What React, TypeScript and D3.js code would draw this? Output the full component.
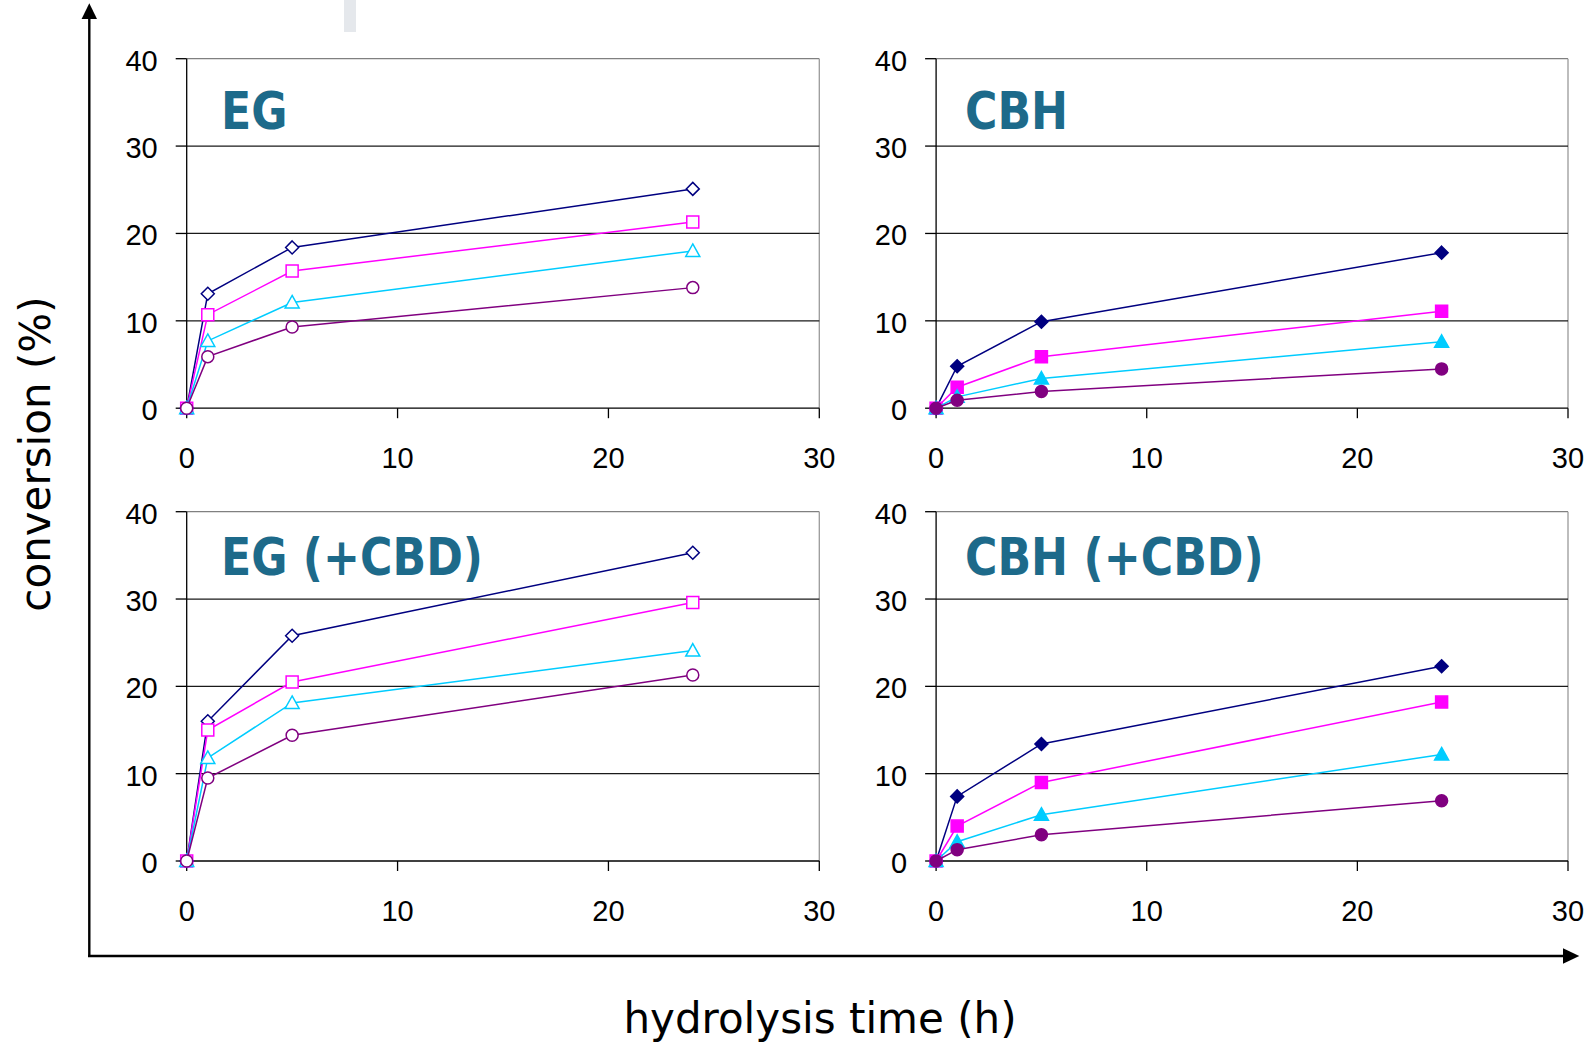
import React from "react";
import * as d3 from "d3";

const times = [0, 1, 5, 24];
const xTicks = [0, 10, 20, 30];
const yTicks = [0, 10, 20, 30, 40];
const seriesColors = ["#000080", "#FF00FF", "#00CCFF", "#800080"];
const seriesShapes = ["diamond", "square", "triangle", "circle"];

// EG
const egA = [0, 13.1, 18.4, 25.1];
const egB = [0, 10.7, 15.7, 21.3];
const egC = [0, 7.7, 12.1, 18.0];
const egD = [0, 5.9, 9.3, 13.8];
// CBH
const cbhA = [0, 4.8, 9.9, 17.8];
const cbhB = [0, 2.4, 5.9, 11.1];
const cbhC = [0, 1.3, 3.4, 7.6];
const cbhD = [0, 0.9, 1.9, 4.5];
// EG (+CBD)
const egCbdA = [0, 16.0, 25.8, 35.3];
const egCbdB = [0, 15.0, 20.5, 29.6];
const egCbdC = [0, 11.8, 18.1, 24.1];
const egCbdD = [0, 9.5, 14.4, 21.3];
// CBH (+CBD)
const cbhCbdA = [0, 7.4, 13.4, 22.3];
const cbhCbdB = [0, 4.0, 9.0, 18.2];
const cbhCbdC = [0, 2.2, 5.3, 12.2];
const cbhCbdD = [0, 1.3, 3.0, 6.9];

const panelTitles = ["EG", "CBH", "EG (+CBD)", "CBH (+CBD)"];
const yLabel = "conversion (%)";
const xLabel = "hydrolysis time (h)";

function markerPath(shape: string, cx: number, cy: number): string {
  const s = 6;
  if (shape === "diamond") {
    const d = 6.5;
    return `M${cx},${cy - d}L${cx + d},${cy}L${cx},${cy + d}L${cx - d},${cy}Z`;
  }
  if (shape === "square") {
    return `M${cx - s},${cy - s}H${cx + s}V${cy + s}H${cx - s}Z`;
  }
  if (shape === "triangle") {
    return `M${cx},${cy - 7}L${cx + 7},${cy + 5.5}L${cx - 7},${cy + 5.5}Z`;
  }
  return `M${cx - s},${cy}A${s},${s} 0 1,0 ${cx + s},${cy}A${s},${s} 0 1,0 ${cx - s},${cy}Z`;
}

type PanelProps = {
  title: string;
  data: number[][];
  filled: boolean;
  left: number;
  right: number;
  top: number;
  bottom: number;
  titleX: number;
  titleY: number;
};

function Panel({ title, data, filled, left, right, top, bottom, titleX, titleY }: PanelProps) {
  const x = d3.scaleLinear().domain([0, 30]).range([left, right]);
  const y = d3.scaleLinear().domain([0, 40]).range([bottom, top]);
  const line = d3
    .line<number>()
    .x((_, i) => x(times[i]))
    .y((v) => y(v));
  return (
    <g>
      <line x1={left} x2={right} y1={y(40)} y2={y(40)} stroke="#808080" strokeWidth={1.3} />
      <line x1={right} x2={right} y1={y(40)} y2={y(0)} stroke="#9a9a9a" strokeWidth={1.3} />
      {yTicks.slice(1, 4).map((t) => (
        <line key={t} x1={left} x2={right} y1={y(t)} y2={y(t)} stroke="#1a1a1a" strokeWidth={1.2} />
      ))}
      <line x1={left} x2={left} y1={y(40)} y2={y(0)} stroke="#000" strokeWidth={1.3} />
      {yTicks.map((t) => (
        <g key={t}>
          <line x1={left - 11} x2={left} y1={y(t)} y2={y(t)} stroke="#000" strokeWidth={1.3} />
          <text
            x={left - 29}
            y={y(t) + 12}
            textAnchor="end"
            fontFamily="Liberation Sans, Arial, sans-serif"
            fontSize={29}
            fill="#000"
          >
            {t}
          </text>
        </g>
      ))}
      <line x1={left} x2={right} y1={y(0)} y2={y(0)} stroke="#000" strokeWidth={1.3} />
      {xTicks.map((t) => (
        <g key={t}>
          <line x1={x(t)} x2={x(t)} y1={y(0)} y2={y(0) + 10} stroke="#000" strokeWidth={1.3} />
          <text
            x={x(t)}
            y={y(0) + 60}
            textAnchor="middle"
            fontFamily="Liberation Sans, Arial, sans-serif"
            fontSize={29}
            fill="#000"
          >
            {t}
          </text>
        </g>
      ))}
      <text
        transform={`translate(${titleX},${titleY}) scale(0.85,1)`}
        x={0}
        y={0}
        fontFamily="DejaVu Sans, Verdana, sans-serif"
        fontWeight="bold"
        fontSize={52}
        fill="#1D6A8A"
      >
        {title}
      </text>
      {data.map((vals, si) => (
        <g key={si}>
          <path d={line(vals) || ""} fill="none" stroke={seriesColors[si]} strokeWidth={1.5} />
          {vals.map((v, i) => (
            <path
              key={i}
              d={markerPath(seriesShapes[si], x(times[i]), y(v))}
              fill={filled ? seriesColors[si] : "#fff"}
              stroke={seriesColors[si]}
              strokeWidth={1.5}
            />
          ))}
        </g>
      ))}
    </g>
  );
}

export default function App() {
  const W = 1592;
  const H = 1045;
  const leftL = 186.7;
  const leftR = 819.3;
  const rightL = 936.1;
  const rightR = 1568;
  const topT = 58.7;
  const topB = 408.2;
  const botT = 511.7;
  const botB = 861;
  return (
    <svg
      width={W}
      height={H}
      style={{ position: "absolute", left: 0, top: 0, background: "#fff" }}
    >
      <rect x={0} y={0} width={W} height={H} fill="#fff" />
      <rect x={344} y={0} width={12} height={32} fill="#e5e8ec" />
      <Panel
        title={panelTitles[0]}
        data={[egA, egB, egC, egD]}
        filled={false}
        left={leftL}
        right={leftR}
        top={topT}
        bottom={topB}
        titleX={221}
        titleY={129}
      />
      <Panel
        title={panelTitles[1]}
        data={[cbhA, cbhB, cbhC, cbhD]}
        filled={true}
        left={rightL}
        right={rightR}
        top={topT}
        bottom={topB}
        titleX={965}
        titleY={129}
      />
      <Panel
        title={panelTitles[2]}
        data={[egCbdA, egCbdB, egCbdC, egCbdD]}
        filled={false}
        left={leftL}
        right={leftR}
        top={botT}
        bottom={botB}
        titleX={221}
        titleY={575}
      />
      <Panel
        title={panelTitles[3]}
        data={[cbhCbdA, cbhCbdB, cbhCbdC, cbhCbdD]}
        filled={true}
        left={rightL}
        right={rightR}
        top={botT}
        bottom={botB}
        titleX={965}
        titleY={575}
      />
      <line x1={89.3} x2={89.3} y1={957} y2={16} stroke="#000" strokeWidth={2.4} />
      <path d="M89.3,3.3L97,19L81.6,19Z" fill="#000" />
      <line x1={88} x2={1565} y1={956} y2={956} stroke="#000" strokeWidth={2.4} />
      <path d="M1579.3,956L1563,948.2L1563,963.8Z" fill="#000" />
      <text
        transform="translate(50,454) rotate(-90)"
        textAnchor="middle"
        fontFamily="DejaVu Sans, Verdana, sans-serif"
        fontSize={42}
        fill="#000"
      >
        {yLabel}
      </text>
      <text
        x={820}
        y={1033}
        textAnchor="middle"
        fontFamily="DejaVu Sans, Verdana, sans-serif"
        fontSize={42}
        fill="#000"
      >
        {xLabel}
      </text>
    </svg>
  );
}
